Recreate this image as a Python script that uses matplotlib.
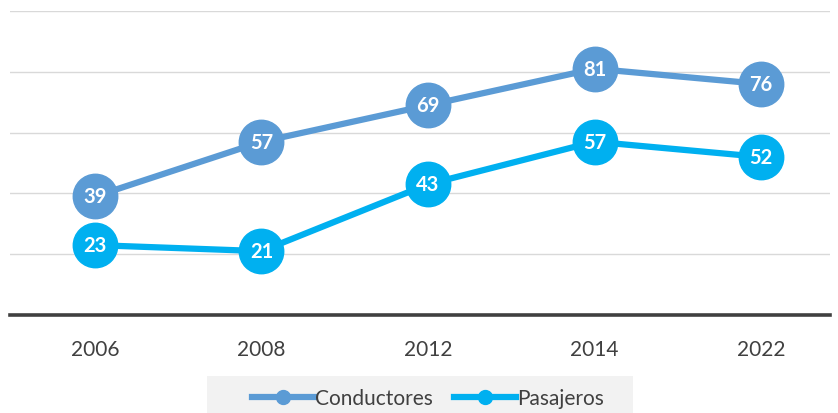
import matplotlib
matplotlib.use("Agg")
import matplotlib.pyplot as plt
from matplotlib.patches import Rectangle
from matplotlib.lines import Line2D

years = ["2006", "2008", "2012", "2014", "2022"]
conductores = [39, 57, 69, 81, 76]
pasajeros = [23, 21, 43, 57, 52]

plt.rcParams['font.family'] = ['Lato', 'DejaVu Sans']

W, H = 838, 414
fig = plt.figure(figsize=(W/100, H/100), dpi=100)
ax = fig.add_axes([10/W, (H-316)/H, 820/W, 304/H])

x = list(range(len(years)))
ax.set_xlim(-0.51, 4.414)
ax.set_ylim(0, 100)
for gy in [20, 40, 60, 80, 100]:
    ax.axhline(gy, color="#D9D9D9", lw=1, zorder=0)

c1, c2 = "#5B9BD5", "#00B0F0"
ax.plot(x, conductores, color=c1, lw=4.5, marker="o", ms=32, zorder=3, label="Conductores")
ax.plot(x, pasajeros, color=c2, lw=4.5, marker="o", ms=32, zorder=3, label="Pasajeros")
for xi, v in zip(x, conductores):
    ax.text(xi, v, str(v), color="white", fontsize=14.5, fontweight="bold", ha="center", va="center", zorder=4)
for xi, v in zip(x, pasajeros):
    ax.text(xi, v, str(v), color="white", fontsize=14.5, fontweight="bold", ha="center", va="center", zorder=4)

for s in ["top", "right", "left"]:
    ax.spines[s].set_visible(False)
ax.spines["bottom"].set_color("#404040")
ax.spines["bottom"].set_linewidth(2.6)
ax.set_yticks([])
ax.set_xticks(x)
ax.set_xticklabels(years, fontsize=15, color="#404040")
ax.tick_params(axis="x", length=0, pad=17)

fig.patches.append(Rectangle((207/W, 0), 426/W, 37/H, transform=fig.transFigure,
                             facecolor="#F2F2F2", edgecolor="none", zorder=0))
h1 = Line2D([], [], color=c1, lw=4.5, marker="o", ms=10)
h2 = Line2D([], [], color=c2, lw=4.5, marker="o", ms=10)
leg = fig.legend([h1, h2], ["Conductores", "Pasajeros"], loc="center",
                 bbox_to_anchor=(428/W, 15/H), bbox_transform=fig.transFigure,
                 ncol=2, frameon=False, fontsize=15, handlelength=3.0,
                 columnspacing=1.0, handletextpad=0.05)
for t in leg.get_texts():
    t.set_color("#404040")

fig.savefig("out.png", dpi=100)
